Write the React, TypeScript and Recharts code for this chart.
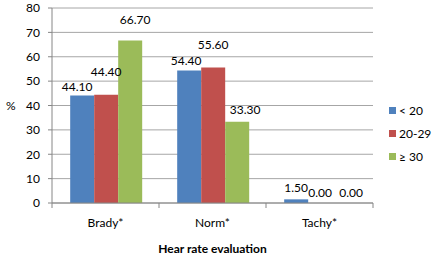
import React from 'react';
import { BarChart, Bar, XAxis, YAxis, CartesianGrid } from 'recharts';

const categories = ['Brady*', 'Norm*', 'Tachy*'];
const under20 = [44.1, 54.4, 1.5];
const age20to29 = [44.4, 55.6, 0];
const over30 = [66.7, 33.3, 0];
const yTicks = [0, 10, 20, 30, 40, 50, 60, 70, 80];

// label nudges copy the hand-placed data labels of the original
const series = [
  { key: 'under20', name: '< 20', color: '#4F81BD', lift: [5, 5, 7], shift: [-5, -3, 0] },
  { key: 'age20to29', name: '20-29', color: '#C0504D', lift: [19, 18, 6], shift: [0, 0, 0] },
  { key: 'over30', name: '≥ 30', color: '#9BBB59', lift: [16, 8, 6], shift: [5, 8, 7] },
];

const data = categories.map((name, i) => ({
  name,
  under20: under20[i],
  age20to29: age20to29[i],
  over30: over30[i],
}));

const FONT = 'Lato, "Open Sans", sans-serif';
const PLOT_LEFT = 52;
const PLOT_RIGHT = 373;
const BAND = (PLOT_RIGHT - PLOT_LEFT) / categories.length;

const CategoryTick = (props: any) => {
  const { x, y, payload, index } = props;
  const axisY = y - 8;
  return (
    <g>
      {index === 0 && <line x1={x - BAND / 2} y1={axisY} x2={x - BAND / 2} y2={axisY + 5} stroke="#868686" />}
      <line x1={x + BAND / 2} y1={axisY} x2={x + BAND / 2} y2={axisY + 5} stroke="#868686" />
      <text x={x} y={axisY + 24} textAnchor="middle" fontSize={12} fill="#000" fontFamily={FONT}>
        {payload.value}
      </text>
    </g>
  );
};

const makeLabel = (lift: number[], shift: number[]) => (props: any) => {
  const { x, y, width, height, value, index } = props;
  const top = Math.min(y, y + height);
  return (
    <text
      x={x + width / 2 + shift[index]}
      y={top - lift[index]}
      textAnchor="middle"
      fontSize={12}
      fill="#000"
      fontFamily={FONT}
    >
      {Number(value).toFixed(2)}
    </text>
  );
};

const LegendBox = () => (
  <div style={{ position: 'absolute', left: 389, top: 99, fontFamily: FONT, fontSize: 12 }}>
    {series.map((s) => (
      <div key={s.key} style={{ display: 'flex', alignItems: 'center', height: 23 }}>
        <span style={{ width: 7, height: 7, background: s.color, marginRight: 3 }} />
        <span>{s.name}</span>
      </div>
    ))}
  </div>
);

export default function App() {
  return (
    <div style={{ position: 'absolute', left: 0, top: 0, width: 434, height: 256, background: '#fff' }}>
      <BarChart
        width={434}
        height={256}
        data={data}
        margin={{ top: 8, right: 434 - PLOT_RIGHT, bottom: 0, left: 0 }}
        barCategoryGap="17%"
        barGap={0}
      >
        <CartesianGrid vertical={false} stroke="#a6a6a6" />
        <XAxis
          dataKey="name"
          height={53}
          axisLine={{ stroke: '#868686' }}
          tickLine={false}
          tick={<CategoryTick />}
          interval={0}
          label={{
            value: 'Hear rate evaluation',
            position: 'insideBottom',
            offset: 3,
            fontSize: 12,
            fontWeight: 'bold',
            fill: '#000',
            fontFamily: FONT,
          }}
        />
        <YAxis
          width={PLOT_LEFT}
          domain={[0, 80]}
          ticks={yTicks}
          interval={0}
          axisLine={{ stroke: '#868686' }}
          tickLine={{ stroke: '#868686' }}
          tickSize={4}
          tickMargin={8}
          tick={{ fontSize: 12, fill: '#000', fontFamily: FONT }}
          label={{
            value: '%',
            position: 'insideLeft',
            offset: 6,
            fontSize: 12,
            fill: '#000',
            fontFamily: FONT,
          }}
        />
        {series.map((s) => (
          <Bar
            key={s.key}
            dataKey={s.key}
            name={s.name}
            fill={s.color}
            isAnimationActive={false}
            minPointSize={0.01}
            label={makeLabel(s.lift, s.shift)}
          />
        ))}
      </BarChart>
      <LegendBox />
    </div>
  );
}
